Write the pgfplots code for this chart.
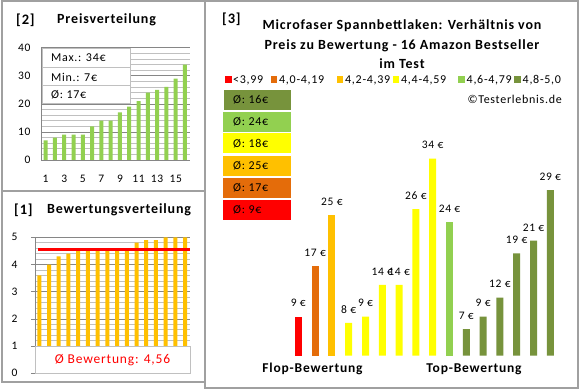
\documentclass[border=0pt]{standalone}
\usepackage{pgfplots}
\pgfplotsset{compat=1.18}
\usepackage{fontspec}
\setmainfont{Carlito}[LetterSpace=6]
\definecolor{cRed}{HTML}{FF0000}
\definecolor{cOrange}{HTML}{E46C0A}
\definecolor{cAmber}{HTML}{FFC000}
\definecolor{cYellow}{HTML}{FFFF00}
\definecolor{cLGreen}{HTML}{92D050}
\definecolor{cDGreen}{HTML}{77933C}
\definecolor{frm}{HTML}{A0A0A0}
\definecolor{gmaj}{HTML}{868686}
\definecolor{gmin}{HTML}{C0C0C0}
\begin{document}
\begin{tikzpicture}[x=1pt,y=1pt]
\path[use as bounding box] (0,0) rectangle (580,390);
\fill[white] (0,0) rectangle (580,390);
% frames
\draw[frm, line width=1.2pt] (2,8) rectangle (205,389);
\draw[frm, line width=1.2pt] (2,199) -- (205,199);
\draw[frm, line width=1.2pt] (205,2) rectangle (578,389);

% ---------- Panel [2] Preisverteilung ----------
\node[font=\fontsize{14.5}{16}\selectfont\bfseries, anchor=west, inner sep=0] at (16,370) {[2]};
\node[font=\fontsize{14}{16}\selectfont\bfseries, anchor=west, inner sep=0] at (57,370) {Preisverteilung};
\begin{axis}[at={(41pt,230pt)}, anchor=south west, scale only axis, width=149pt, height=112.3pt,
  xmin=0.5, xmax=16.54, ymin=0, ymax=40,
  axis x line*=bottom, axis y line*=left, axis line style={gmaj, line width=0.8pt},
  ytick={0,10,...,40}, minor ytick={2,4,...,38}, ymajorgrids, yminorgrids,
  major grid style={gmaj, line width=0.6pt}, minor grid style={gmin, line width=0.6pt},
  xtick={1,3,...,15}, major tick length=0pt, minor tick length=0pt,
  ybar, bar width=4pt, bar shift=0pt,
  /pgf/number format/assume math mode=true,
  tick label style={font=\fontsize{11.5}{13}\selectfont},
  xticklabel style={yshift=-12pt},
  yticklabel style={xshift=-7pt},
]
\addplot[fill=cLGreen, draw=none] coordinates {(1,7)(2,8)(3,9)(4,9)(5,9)(6,12)(7,14)(8,14)(9,17)(10,19)(11,21)(12,24)(13,25)(14,26)(15,29)(16,34)};
\end{axis}
\fill[white] (42,287) rectangle (130,342);
\draw[gmin, line width=0.8pt] (42,287) rectangle (130,342) (42,305)--(130,305) (42,323)--(130,323);
\begin{scope}[every node/.style={font=\fontsize{12}{14}\selectfont, anchor=west, inner sep=0}]
\node at (51,332) {Max.: 34€};
\node at (51,313) {Min.: 7€};
\node at (51,295) {Ø: 17€};
\end{scope}

% ---------- Panel [1] Bewertungsverteilung ----------
\node[font=\fontsize{14.5}{16}\selectfont\bfseries, anchor=west, inner sep=0] at (14,180) {[1]};
\node[font=\fontsize{14}{16}\selectfont\bfseries, anchor=west, inner sep=0] at (47,180) {Bewertungsverteilung};
\begin{axis}[at={(35pt,16.7pt)}, anchor=south west, scale only axis, width=155pt, height=136pt,
  xmin=0.56, xmax=16.5, ymin=0, ymax=5,
  axis x line=none, axis y line*=left, axis line style={gmaj, line width=0.8pt},
  ytick={0,1,...,5}, minor ytick={0.2,0.4,...,4.9}, ymajorgrids, yminorgrids,
  major grid style={gmaj, line width=0.6pt}, minor grid style={gmin, line width=0.6pt},
  xtick=\empty, major tick length=4pt, minor tick length=0pt, tick align=outside,
  major tick style={gmaj, line width=0.8pt},
  ybar, bar width=4pt, bar shift=0pt,
  /pgf/number format/assume math mode=true,
  tick label style={font=\fontsize{11.5}{13}\selectfont},
  yticklabel style={xshift=-10pt},
  clip=false,
]
\addplot[fill=cAmber, draw=none] coordinates {(1,3.6)(2,4.0)(3,4.3)(4,4.4)(5,4.5)(6,4.5)(7,4.5)(8,4.5)(9,4.5)(10,4.6)(11,4.8)(12,4.9)(13,4.9)(14,5.0)(15,5.0)(16,5.0)};
\addplot[draw=cRed, line width=3pt, sharp plot, forget plot] coordinates {(0.87,4.56)(16.5,4.56)};
\draw[gmin, line width=0.8pt, fill=white] (axis cs:0.56,0) rectangle (axis cs:16.5,1);
\node[text=cRed, font=\fontsize{13.5}{16}\selectfont] at (axis cs:8.53,0.5) {Ø Bewertung: 4,56};
\end{axis}

% ---------- Panel [3] ----------
\node[font=\fontsize{14.5}{16}\selectfont\bfseries, anchor=west, inner sep=0] at (222,371) {[3]};
\begin{scope}[every node/.style={font=\fontsize{14}{16}\selectfont\bfseries, inner sep=0}]
\node at (402,364) {Microfaser Spannbettlaken: Verhältnis von};
\node at (402,344.3) {Preis zu Bewertung - 16 Amazon Bestseller};
\node at (402,326.7) {im Test};
\end{scope}
% legend
\begin{scope}[every node/.style={font=\fontsize{12}{14}\selectfont, anchor=west, inner sep=0}]
\fill[cRed] (225,307) rectangle +(6.5,6.5);      \node at (233,310) {<3,99};
\fill[cOrange] (270.7,307) rectangle +(6.5,6.5); \node at (279,310) {4,0-4,19};
\fill[cAmber] (336.7,307) rectangle +(6.5,6.5);  \node at (345,310) {4,2-4,39};
\fill[cYellow] (392.7,307) rectangle +(6.5,6.5); \node at (401,310) {4,4-4,59};
\fill[cLGreen] (458.3,307) rectangle +(6.5,6.5); \node at (466.5,310) {4,6-4,79};
\fill[cDGreen] (514.3,307) rectangle +(6.5,6.5); \node at (522.5,310) {4,8-5,0};
\node[anchor=east] at (562,291) {©Testerlebnis.de};
\end{scope}
% average boxes
\begin{scope}[every node/.style={font=\fontsize{12}{14}\selectfont, anchor=west, inner sep=0}]
\fill[cDGreen] (224,280) rectangle (291,300);   \node at (233,290) {Ø: 16€};
\fill[cLGreen] (223,258) rectangle (291,278);   \node at (233,268) {Ø: 24€};
\fill[cYellow] (223,236.7) rectangle (291,256.7); \node at (233,246.7) {Ø: 18€};
\fill[cAmber] (223,214) rectangle (291,234);    \node at (233,224) {Ø: 25€};
\fill[cOrange] (223,192) rectangle (291,211.5); \node at (233,201.8) {Ø: 17€};
\fill[cRed] (223,170) rectangle (291,189.5);    \node at (233,179.8) {Ø: 9€};
\end{scope}
\begin{axis}[at={(289.9pt,34.3pt)}, anchor=south west, scale only axis, width=268.8pt, height=209.8pt,
  xmin=0.5, xmax=16.5, ymin=2.8, ymax=36, hide axis,
  ybar, bar width=7pt, bar shift=0pt,
  nodes near coords={\pgfmathprintnumber{\pgfplotspointmeta}~€},
  nodes near coords style={font=\fontsize{11.5}{14}\selectfont, anchor=south, yshift=6pt},
  /pgf/number format/assume math mode=true,
]
\addplot[fill=cRed, draw=none] coordinates {(1,9)};
\addplot[fill=cOrange, draw=none] coordinates {(2,17)};
\addplot[fill=cAmber, draw=none] coordinates {(3,25)};
\addplot[fill=cYellow, draw=none] coordinates {(4,8)(5,9)(6,14)(7,14)(8,26)(9,34)};
\addplot[fill=cLGreen, draw=none] coordinates {(10,24)};
\addplot[fill=cDGreen, draw=none] coordinates {(11,7)(12,9)(13,12)(14,19)(15,21)(16,29)};
\end{axis}
\node[font=\fontsize{13.5}{16}\selectfont\bfseries] at (312.5,21) {Flop-Bewertung};
\node[font=\fontsize{13.5}{16}\selectfont\bfseries] at (474,21) {Top-Bewertung};
\end{tikzpicture}
\end{document}
